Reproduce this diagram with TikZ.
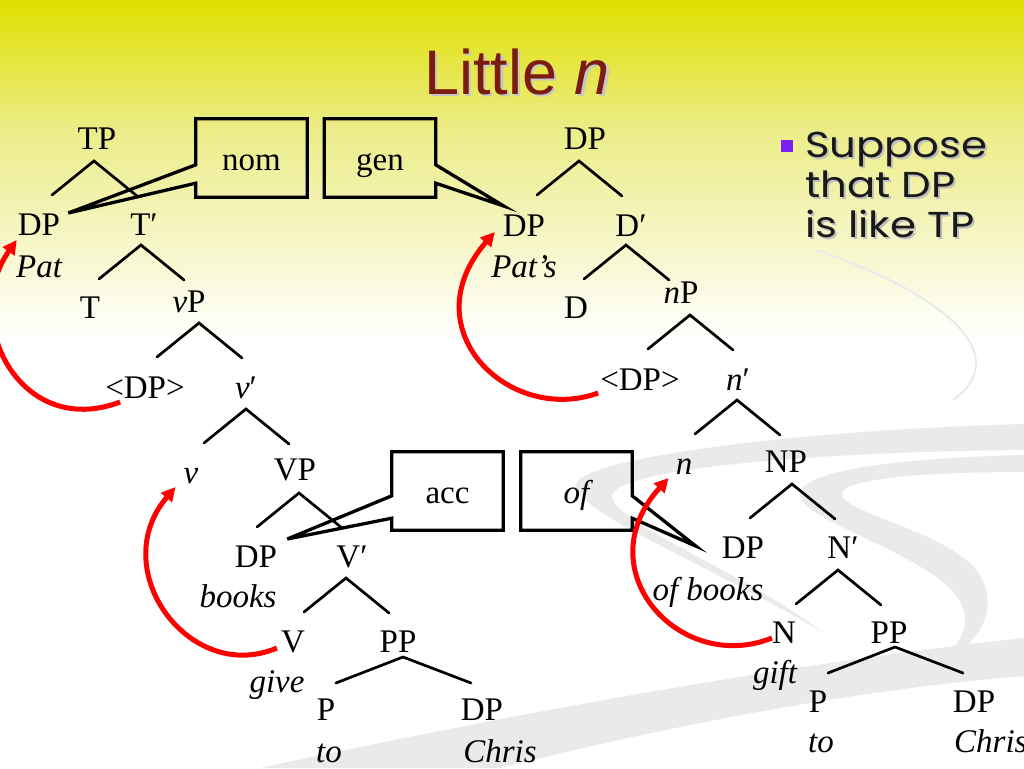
\documentclass[tikz,border=0pt]{standalone}
\usepackage{fontspec}
\setmainfont{Liberation Serif}
\newfontfamily\titlefont{Liberation Sans}
\newfontfamily\bulletfont[FakeStretch=1.16]{Poppins}
\usetikzlibrary{arrows.meta,calc}
\definecolor{titlered}{HTML}{7A1C10}
\definecolor{swoosh}{HTML}{EAEAEA}
\definecolor{ytop}{HTML}{E0E000}
\definecolor{ymid}{HTML}{ECEC88}
\definecolor{bulletc}{HTML}{7B1FF2}
\newcommand\fork[1]{\draw[br] ($(#1)+(-42,34)$) -- (#1) -- ($(#1)+(43,35)$);}
\newcommand\wfork[1]{\draw[br] ($(#1)+(-67,26)$) -- (#1) -- ($(#1)+(68,26)$);}
\begin{document}
\begin{tikzpicture}[x=1pt,y=-1pt,
 lab/.style={font=\fontsize{33}{36}\selectfont, inner sep=0pt, anchor=base},
 itl/.style={font=\fontsize{33}{36}\selectfont\itshape, inner sep=0pt, anchor=base},
 br/.style={line width=2.7pt, line cap=round},
 boxl/.style={line width=3.3pt, line join=miter},
 cbox/.style={minimum width=111pt, minimum height=78pt, inner sep=0pt, text height=24pt, text depth=0pt, font=\fontsize{33}{36}\selectfont},
 mv/.style={red, line width=5pt, -{Triangle[length=14pt,width=14pt]}},
]
\useasboundingbox (0,0) rectangle (1024,768);
\fill[white] (0,0) rectangle (1024,768);
\shade[top color=ytop, bottom color=ymid] (0,0) rectangle (1024,130);
\shade[top color=ymid, bottom color=white] (0,129.5) rectangle (1024,340);
% background swooshes
\fill[swoosh] (1024,424) .. controls (800,430) and (578,458) .. (576,485) .. controls (575,512) and (700,560) .. (822,632) .. controls (740,570) and (612,522) .. (612,496) .. controls (614,470) and (800,452) .. (1024,450) -- cycle;
\fill[swoosh] (1024,455) .. controls (900,458) and (800,470) .. (800,495) .. controls (800,520) and (930,555) .. (958,598) .. controls (975,625) and (960,650) .. (925,670) .. controls (990,645) and (1000,600) .. (975,568) .. controls (940,530) and (842,512) .. (842,494) .. controls (842,478) and (930,472) .. (1024,472) -- cycle;
\fill[swoosh] (260,768) .. controls (520,712) and (800,662) .. (1024,638) -- (1024,676) .. controls (850,690) and (660,728) .. (500,768) -- cycle;
\draw[swoosh, line width=2pt] (817,250) .. controls (960,300) and (1010,360) .. (953,400);
% title
\node[font=\titlefont\fontsize{63}{70}\selectfont, text=black!22, anchor=base west, inner sep=0pt] (titles) at (426.5,96.5) {Little \textit{n}};
\node[font=\titlefont\fontsize{63}{70}\selectfont, text=titlered, anchor=base west, inner sep=0pt] (title) at (424,94) {Little \textit{n}};
% bullet
\fill[bulletc] (781,140) rectangle (793,152);
\foreach \t/\y [count=\i] in {Suppose/157, that DP/197, is like TP/237}{
  \node[font=\bulletfont\fontsize{36}{40}\selectfont, text=black!25, anchor=base west, inner sep=0pt] (bs\i) at (807,\y+2) {\t};
  \node[font=\bulletfont\fontsize{36}{40}\selectfont, text=black!90, anchor=base west, inner sep=0pt] (b\i) at (805,\y) {\t};
}
% left tree
\node[lab] (TP) at (97,149) {TP};
\node[lab] (DP1) at (39,235) {DP};
\node[itl] (Pat) at (39,277) {Pat};
\node[lab] (Tb) at (144,235) {T′};
\node[lab] (T) at (90,318) {T};
\node[lab] (vP) at (189,312) {\textit{v}P};
\node[lab] (tDP1) at (145,398) {<DP>};
\node[lab] (vb) at (246,398) {\textit{v}′};
\node[itl] (v) at (191,483) {v};
\node[lab] (VP) at (295,480) {VP};
\node[lab] (DP2) at (256,567) {DP};
\node[itl] (books) at (238,607) {books};
\node[lab] (Vb) at (352,567) {V′};
\node[lab] (V) at (293,652) {V};
\node[itl] (give) at (277,692) {give};
\node[lab] (PP1) at (398,652) {PP};
\node[lab] (P1) at (326,720) {P};
\node[itl] (to1) at (329,762) {to};
\node[lab] (DP3) at (482,720) {DP};
\node[itl] (Chris1) at (500,762) {Chris};
% right tree
\node[lab] (DPr) at (585,149) {DP};
\node[lab] (DP4) at (524,236) {DP};
\node[itl] (Pats) at (524,277) {Pat’s};
\node[lab] (Db) at (631,236) {D′};
\node[lab] (D) at (576,318) {D};
\node[lab] (nP) at (681,303) {\textit{n}P};
\node[lab] (tDP2) at (640,390) {<DP>};
\node[lab] (nb) at (738,390) {\textit{n}′};
\node[itl] (n) at (684,474) {n};
\node[lab] (NP) at (786,472) {NP};
\node[lab] (DP5) at (743,558) {DP};
\node[itl] (ofb) at (708,600) {of books};
\node[lab] (Nb) at (843,558) {N′};
\node[lab] (N) at (784,643) {N};
\node[itl] (gift) at (775,683) {gift};
\node[lab] (PP2) at (889,643) {PP};
\node[lab] (P2) at (818,712) {P};
\node[itl] (to2) at (821,752) {to};
\node[lab] (DP6) at (974,712) {DP};
\node[itl, anchor=base west] (Chris2) at (954,752) {Chris};
% fork apexes
\coordinate (aTP) at ($(TP.base)+(-3,12)$);
\coordinate (aTb) at ($(Tb.base)+(-3,10)$);
\coordinate (avP) at ($(vP.base)+(10,11)$);
\coordinate (avb) at ($(vb.base)+(0,11)$);
\coordinate (aVP) at ($(VP.base)+(4,13)$);
\coordinate (aVb) at ($(Vb.base)+(-6,11)$);
\coordinate (aPP1) at ($(PP1.base)+(5,5)$);
\coordinate (aDPr) at ($(DPr.base)+(-6,12)$);
\coordinate (aDb) at ($(Db.base)+(-5,9)$);
\coordinate (anP) at ($(nP.base)+(9,12)$);
\coordinate (anb) at ($(nb.base)+(-1,10)$);
\coordinate (aNP) at ($(NP.base)+(6,12)$);
\coordinate (aNb) at ($(Nb.base)+(-5,12)$);
\coordinate (aPP2) at ($(PP2.base)+(6,4)$);
\fork{aTP}\fork{aTb}\fork{avP}\fork{avb}\fork{aVP}\fork{aVb}
\fork{aDPr}\fork{aDb}\fork{anP}\fork{anb}\fork{aNP}\fork{aNb}
\wfork{aPP1}\wfork{aPP2}
% callout boxes
\node[cbox] (nom) at (251.5,158) {nom};
\node[cbox] (gen) at (380,158) {gen};
\node[cbox] (acc) at (447.5,491) {acc};
\node[cbox] (of) at (576.5,491) {\itshape of};
\coordinate (tnom) at ($(DP1.base east)+(8,-22)$);
\coordinate (tgen) at ($(DP4.base west)+(1,-30)$);
\coordinate (tacc) at ($(DP2.base east)+(10,-28)$);
\coordinate (tof) at ($(DP5.base west)+(-26,-12)$);
\draw[boxl] ($(nom.north west)+(0,46)$) -- (nom.north west) -- (nom.north east) -- (nom.south east) -- (nom.south west) -- ($(nom.south west)+(0,-14)$) -- (tnom) -- cycle;
\draw[boxl] ($(gen.north east)+(0,46)$) -- (gen.north east) -- (gen.north west) -- (gen.south west) -- (gen.south east) -- ($(gen.south east)+(0,-14)$) -- (tgen) -- cycle;
\draw[boxl] ($(acc.north west)+(0,44)$) -- (acc.north west) -- (acc.north east) -- (acc.south east) -- (acc.south west) -- ($(acc.south west)+(0,-12)$) -- (tacc) -- cycle;
\draw[boxl] ($(of.north east)+(0,44)$) -- (of.north east) -- (of.north west) -- (of.south west) -- (of.south east) -- ($(of.south east)+(0,-12)$) -- (tof) -- cycle;
% movement arrows
\draw[mv] ($(tDP1.base west)+(15,4)$) .. controls (20,440) and (-40,320) .. ($(DP1.base west)+(-1,5)$);
\draw[mv] ($(V.base west)+(-4,-4)$) .. controls (190,685) and (105,570) .. ($(v.base west)+(-8,4)$);
\draw[mv] ($(tDP2.base west)+(-2,3)$) .. controls (510,425) and (410,330) .. ($(DP4.base west)+(-8,-4)$);
\draw[mv] ($(N.base west)+(0,-5)$) .. controls (680,675) and (585,570) .. ($(n.base west)+(-7,4)$);
\end{tikzpicture}
\end{document}
